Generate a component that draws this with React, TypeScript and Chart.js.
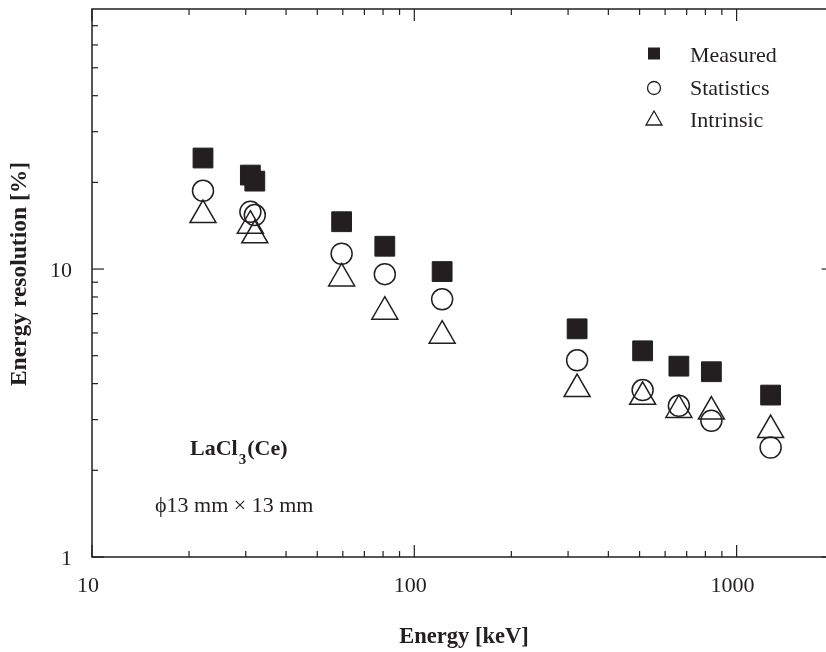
import React, { useEffect, useRef } from 'react';
import { Chart, registerables } from 'chart.js';
Chart.register(...registerables);

// Data (energy in keV, resolution in %)
const energies = [22.1, 31.0, 32.0, 59.5, 81.0, 122, 320, 511, 662, 835, 1275];
const measured = [24.3, 21.2, 20.2, 14.6, 12.0, 9.8, 6.2, 5.2, 4.6, 4.4, 3.65];
const statistics = [18.7, 15.8, 15.4, 11.3, 9.6, 7.85, 4.82, 3.8, 3.35, 2.97, 2.4];
const intrinsic = [15.4, 14.15, 13.1, 9.28, 7.11, 5.87, 3.83, 3.6, 3.24, 3.2, 2.76];

const seriesNames = ['Measured', 'Statistics', 'Intrinsic'];
const xTickLabels = [10, 100, 1000];
const yTickLabels = [1, 10];
const xMinorTicks = [20, 30, 40, 50, 60, 70, 80, 90, 200, 300, 400, 500, 600, 700, 800, 900];
const yMinorTicks = [2, 3, 4, 5, 6, 7, 8, 9, 20, 30, 40, 50, 60, 70];
const xTitle = 'Energy [keV]';
const yTitle = 'Energy resolution [%]';
const X_MIN = 10;
const X_AXIS_END = 2000; // right frame (cropped off the picture)
const X_VISIBLE_MAX = 1867; // value at the picture's right edge
const Y_MIN = 1;
const Y_MAX = 80;

const FONT = '"Liberation Serif", "Times New Roman", serif';
const INK = '#231f20';

const pts = (ys: number[]) => energies.map((x, i) => ({ x, y: ys[i] }));

const overlay = {
  id: 'overlay',
  afterDraw(chart: any) {
    const ctx = chart.ctx as CanvasRenderingContext2D;
    const { left, top, bottom } = chart.chartArea;
    const xs = chart.scales.x;
    const ys = chart.scales.y;
    const right = xs.getPixelForValue(X_AXIS_END);
    ctx.save();
    ctx.strokeStyle = INK;
    ctx.lineWidth = 1.5;
    ctx.strokeRect(left, top, right - left, bottom - top);
    ctx.lineWidth = 1.2;
    const tick = (x1: number, y1: number, x2: number, y2: number) => {
      ctx.beginPath();
      ctx.moveTo(x1, y1);
      ctx.lineTo(x2, y2);
      ctx.stroke();
    };
    xTickLabels.forEach((v) => {
      const p = xs.getPixelForValue(v);
      tick(p, bottom, p, bottom - 12);
      tick(p, top, p, top + 12);
    });
    xMinorTicks.forEach((v) => {
      const p = xs.getPixelForValue(v);
      tick(p, bottom, p, bottom - 6);
      tick(p, top, p, top + 6);
    });
    yTickLabels.forEach((v) => {
      const p = ys.getPixelForValue(v);
      tick(left, p, left + 12, p);
      tick(right, p, right - 12, p);
    });
    yMinorTicks.forEach((v) => {
      const p = ys.getPixelForValue(v);
      tick(left, p, left + 6, p);
      tick(right, p, right - 6, p);
    });

    ctx.fillStyle = INK;
    ctx.font = `22px ${FONT}`;
    ctx.textBaseline = 'alphabetic';
    ctx.textAlign = 'center';
    xTickLabels.forEach((v) => {
      ctx.fillText(String(v), xs.getPixelForValue(v) - 4, bottom + 35);
    });
    ctx.textAlign = 'right';
    yTickLabels.forEach((v) => {
      ctx.fillText(String(v), left - 20, ys.getPixelForValue(v) + 8);
    });

    // axis titles
    ctx.font = `bold 22.5px ${FONT}`;
    ctx.textAlign = 'center';
    ctx.fillText(xTitle, 464, 643);
    ctx.font = `bold 23.5px ${FONT}`;
    ctx.save();
    ctx.translate(26, 274);
    ctx.rotate(-Math.PI / 2);
    ctx.fillText(yTitle, 0, 0);
    ctx.restore();

    // legend
    ctx.font = `22px ${FONT}`;
    ctx.textAlign = 'left';
    const lx = 654;
    const rows = [53.5, 88, 119];
    ctx.fillRect(lx - 6, rows[0] - 6, 12, 12);
    ctx.lineWidth = 1.3;
    ctx.beginPath();
    ctx.arc(lx, rows[1], 6.5, 0, Math.PI * 2);
    ctx.stroke();
    ctx.beginPath();
    ctx.moveTo(lx, rows[2] - 8);
    ctx.lineTo(lx + 8, rows[2] + 6);
    ctx.lineTo(lx - 8, rows[2] + 6);
    ctx.closePath();
    ctx.stroke();
    ctx.fillText(seriesNames[0], 690, 61.5);
    ctx.fillText(seriesNames[1], 690, 95);
    ctx.fillText(seriesNames[2], 690, 127);

    // annotations
    ctx.font = `bold 22px ${FONT}`;
    let ax = 190;
    ctx.fillText('LaCl', ax, 455);
    ax += ctx.measureText('LaCl').width;
    ctx.font = `bold 15px ${FONT}`;
    ctx.fillText('3', ax + 1, 464);
    ax += ctx.measureText('3').width + 2;
    ctx.font = `bold 22px ${FONT}`;
    ctx.fillText('(Ce)', ax, 455);

    ctx.font = `22px ${FONT}`;
    ctx.fillText('\u03d513 mm \u00d7 13 mm', 155, 512);
    ctx.restore();
  },
};

export default function App() {
  const ref = useRef<HTMLCanvasElement>(null);
  useEffect(() => {
    if (!ref.current) return;
    const chart = new Chart(ref.current, {
      type: 'scatter',
      data: {
        datasets: [
          {
            label: seriesNames[0],
            data: pts(measured),
            pointStyle: 'rect',
            pointRadius: 14,
            backgroundColor: INK,
            borderColor: INK,
            borderWidth: 1,
          },
          {
            label: seriesNames[1],
            data: pts(statistics),
            pointStyle: 'circle',
            pointRadius: 10.5,
            backgroundColor: 'rgba(0,0,0,0)',
            borderColor: INK,
            borderWidth: 1.5,
          },
          {
            label: seriesNames[2],
            data: pts(intrinsic),
            pointStyle: 'triangle',
            pointRadius: 15,
            backgroundColor: 'rgba(0,0,0,0)',
            borderColor: INK,
            borderWidth: 1.5,
          },
        ],
      },
      options: {
        responsive: false,
        animation: false,
        events: [],
        layout: { autoPadding: false, padding: { left: 92, top: 9, right: 2, bottom: 95 } },
        plugins: { legend: { display: false }, tooltip: { enabled: false } },
        scales: {
          x: { type: 'logarithmic', min: X_MIN, max: X_VISIBLE_MAX, display: false },
          y: { type: 'logarithmic', min: Y_MIN, max: Y_MAX, display: false },
        },
      },
      plugins: [overlay],
    });
    return () => chart.destroy();
  }, []);
  return (
    <div style={{ position: 'fixed', left: 0, top: 0, width: 826, height: 652, background: '#fff' }}>
      <canvas ref={ref} width={826} height={652} />
    </div>
  );
}
